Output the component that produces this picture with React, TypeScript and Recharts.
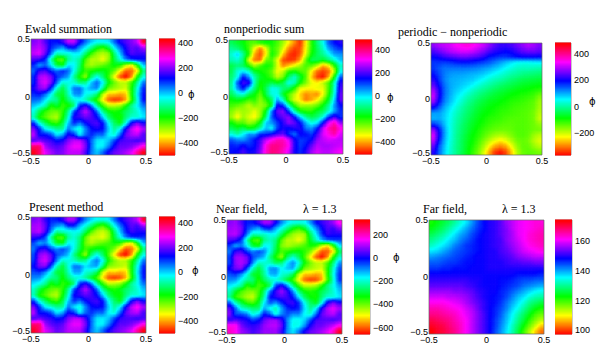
import React from "react";
import { ScatterChart, Scatter, XAxis, YAxis, ReferenceArea } from "recharts";

// phi, top row first, left to right
const ewald: number[][] = [
  [200,225,170,115,115,155,240,240,135,60,0,-30,-30,-20,60,135,170,200,240,405],
  [225,240,200,100,60,20,100,115,30,-30,-100,-180,-220,-150,-30,60,135,185,170,225],
  [240,260,185,60,-80,-60,-60,-30,-30,-120,-220,-280,-300,-280,-120,0,115,170,155,155],
  [170,155,100,-80,-230,-250,-100,-60,-100,-230,-300,-300,-340,-280,-150,-50,50,100,115,115],
  [100,20,60,-20,-150,-180,-20,-30,-120,-260,-290,-270,-250,-220,-180,-200,-300,-350,-200,0],
  [60,155,170,100,60,100,60,-40,-150,-220,-200,-180,-170,-200,-250,-350,-440,-440,-350,-120],
  [100,225,240,195,100,60,20,-100,-200,-280,-120,-40,-120,-220,-340,-450,-500,-420,-200,-50],
  [100,225,260,200,60,-60,-50,-60,-120,-100,0,60,-30,-180,-250,-300,-300,-220,-100,50],
  [135,200,225,100,-60,-150,-60,50,60,-20,20,40,-100,-250,-280,-300,-320,-200,-50,100],
  [100,115,60,-30,-150,-170,-80,30,40,-40,-60,-120,-300,-380,-380,-400,-380,-200,-30,115],
  [60,50,-20,-80,-100,-200,-120,-60,-40,-80,-150,-220,-350,-440,-470,-460,-400,-220,-50,115],
  [0,-30,-80,-200,-160,-220,-200,-120,100,155,60,-100,-220,-300,-300,-280,-200,-100,-30,50],
  [-50,-150,-220,-250,-260,-220,-100,80,170,240,170,60,-100,-180,-200,-180,-130,-100,-60,0],
  [-80,-200,-240,-280,-300,-200,-60,135,155,185,170,125,0,-120,-180,-200,-120,-60,-60,-20],
  [100,-50,-130,-200,-220,-150,0,100,50,115,155,170,115,-30,-130,-180,-50,135,200,135],
  [200,100,-30,-60,-100,-100,50,-20,-60,40,115,135,115,0,-100,-30,135,240,295,225],
  [240,115,115,80,-20,20,135,100,-30,60,100,60,60,-30,-60,60,185,225,240,170],
  [170,195,170,155,115,135,200,240,240,170,60,-20,-30,0,80,155,170,170,155,170],
  [370,370,225,185,170,185,240,270,270,200,60,-30,-30,40,135,185,185,200,240,295],
  [420,370,260,225,190,200,240,240,240,170,50,0,60,135,185,200,225,260,340,420],
];

const nonperiodic: number[][] = [
  [-120,-150,-170,-220,-230,-200,-180,-180,-220,-280,-350,-420,-480,-350,-200,-100,-20,100,150,180],
  [-80,-100,-150,-220,-340,-430,-330,-200,-240,-320,-420,-470,-460,-340,-200,-120,-50,50,100,130],
  [-40,20,-80,-200,-400,-460,-350,-180,-240,-380,-470,-490,-450,-320,-180,-120,-80,-20,50,60],
  [-60,-40,-100,-330,-430,-440,-250,-220,-330,-460,-480,-470,-400,-240,-120,-120,-150,-100,-40,30],
  [-130,-100,-120,-200,-280,-220,-180,-200,-320,-420,-380,-330,-280,-220,-240,-300,-400,-350,-200,-50],
  [-120,-30,0,-40,-150,-180,-200,-240,-340,-300,-200,-180,-220,-240,-350,-440,-470,-440,-300,-20],
  [-100,-20,150,60,-60,-150,-180,-220,-300,-250,-110,-40,-140,-230,-380,-470,-500,-400,-170,100],
  [-80,100,200,180,-60,-180,-160,-130,-160,-130,-20,-60,-180,-260,-330,-350,-300,-220,-50,180],
  [-70,60,150,20,-100,-200,-120,-20,-30,-100,-120,-200,-330,-340,-350,-330,-330,-220,-40,200],
  [-120,-50,-30,-120,-170,-240,-130,-30,-20,-150,-230,-300,-370,-420,-400,-420,-340,-200,-20,220],
  [-180,-160,-180,-220,-200,-270,-200,-120,50,-50,-230,-320,-360,-430,-400,-350,-260,-150,20,220],
  [-220,-240,-260,-300,-260,-280,-250,-150,170,130,-50,-200,-280,-270,-270,-240,-170,-80,60,150],
  [-260,-300,-280,-290,-330,-280,-160,80,220,250,120,-60,-170,-200,-200,-150,-120,-40,50,130],
  [-280,-350,-280,-320,-350,-270,-100,100,180,220,250,150,20,-80,-130,-100,-30,120,200,130],
  [-180,-230,-230,-280,-250,-160,20,60,120,180,250,220,150,40,-30,0,150,300,370,250],
  [-120,-150,-120,-170,-150,-70,30,-10,120,170,150,180,180,80,60,140,280,370,410,340],
  [-30,-70,-10,60,50,130,130,160,200,220,130,80,160,150,120,200,300,340,380,300],
  [100,70,60,100,150,200,280,330,370,370,300,170,120,130,160,250,280,300,290,280],
  [140,130,160,130,150,220,340,400,400,380,330,180,120,150,220,280,270,270,280,290],
  [150,160,200,160,170,240,350,410,400,360,300,170,130,180,260,300,280,280,300,320],
];

const difference: number[][] = [
  [280,300,310,320,340,350,360,350,330,310,280,250,230,230,240,260,280,300,290,270],
  [240,260,280,300,310,320,320,310,290,270,240,220,210,200,210,230,250,260,260,250],
  [200,210,230,240,250,260,260,250,240,220,190,180,170,170,180,190,200,200,200,195],
  [170,170,165,170,180,185,185,180,170,160,150,130,110,90,70,55,50,50,55,60],
  [170,150,135,135,135,135,135,130,125,115,105,90,75,55,40,25,20,20,15,10],
  [190,160,130,115,110,110,105,100,95,85,70,55,40,25,10,0,-10,-15,-20,-25],
  [220,170,125,105,100,95,90,85,70,55,35,20,10,-5,-20,-30,-40,-45,-50,-55],
  [250,190,135,105,95,85,75,60,40,20,5,-10,-25,-35,-45,-55,-65,-70,-75,-80],
  [290,210,140,105,85,70,50,25,5,-10,-25,-40,-50,-60,-70,-80,-85,-90,-100,-110],
  [310,210,135,100,70,50,20,0,-20,-35,-50,-60,-70,-80,-90,-95,-105,-110,-120,-150],
  [280,190,125,90,60,30,0,-20,-40,-55,-70,-75,-85,-95,-105,-110,-115,-125,-135,-170],
  [200,150,100,70,40,10,-15,-35,-55,-70,-80,-90,-100,-105,-115,-120,-125,-130,-140,-175],
  [110,110,85,55,25,0,-25,-45,-65,-80,-90,-100,-110,-115,-120,-125,-130,-135,-150,-185],
  [100,105,80,50,15,-10,-35,-55,-75,-90,-105,-110,-115,-125,-130,-130,-130,-135,-150,-195],
  [170,140,90,45,10,-20,-45,-65,-85,-100,-115,-125,-130,-135,-135,-130,-130,-135,-145,-165],
  [280,190,105,45,5,-25,-50,-75,-95,-115,-130,-140,-145,-145,-140,-130,-130,-135,-145,-150],
  [320,200,105,45,0,-30,-60,-85,-105,-130,-155,-175,-185,-175,-155,-135,-130,-140,-170,-190],
  [300,180,95,40,0,-35,-65,-90,-120,-155,-190,-220,-240,-220,-185,-150,-140,-150,-185,-210],
  [250,150,85,35,-5,-35,-70,-100,-135,-180,-235,-280,-300,-280,-225,-170,-140,-140,-165,-185],
  [220,140,80,30,-5,-40,-75,-110,-150,-205,-275,-340,-360,-330,-260,-185,-145,-135,-140,-150],
];

const present: number[][] = [
  [210,230,165,115,120,160,245,235,130,50,0,-30,-40,-20,60,135,175,210,250,420],
  [235,245,195,90,50,20,110,115,20,-40,-110,-190,-230,-150,-30,60,135,190,170,230],
  [235,255,180,50,-90,-60,-50,-30,-40,-130,-230,-290,-310,-270,-120,10,115,170,150,150],
  [165,150,90,-90,-220,-240,-90,-50,-110,-240,-310,-310,-330,-280,-150,-40,60,105,115,105],
  [90,20,50,-30,-150,-170,-20,-30,-120,-250,-290,-260,-240,-220,-190,-210,-310,-340,-190,10],
  [60,150,165,90,50,90,50,-40,-140,-220,-190,-170,-170,-210,-260,-360,-450,-430,-340,-110],
  [90,220,245,190,90,60,10,-100,-190,-280,-110,-30,-120,-230,-350,-460,-500,-410,-190,-40],
  [100,235,270,195,50,-60,-40,-60,-110,-90,10,60,-30,-190,-260,-300,-290,-210,-90,60],
  [130,205,220,90,-70,-150,-50,60,60,-10,20,30,-110,-260,-280,-290,-310,-190,-40,110],
  [90,105,50,-40,-150,-160,-70,30,30,-50,-70,-130,-310,-380,-370,-390,-370,-190,-20,125],
  [50,40,-30,-90,-110,-190,-110,-60,-50,-90,-160,-230,-360,-450,-470,-450,-390,-210,-40,115],
  [-10,-40,-90,-190,-150,-210,-190,-110,105,160,70,-90,-210,-300,-290,-270,-190,-90,-30,60],
  [-60,-150,-210,-240,-260,-210,-90,90,175,245,175,70,-90,-170,-200,-170,-120,-90,-50,10],
  [-70,-190,-230,-280,-300,-190,-50,135,160,190,175,130,10,-110,-170,-190,-110,-50,-50,-10],
  [105,-40,-120,-190,-220,-140,10,105,60,125,160,175,125,-20,-120,-170,-40,140,210,140],
  [210,105,-20,-50,-90,-90,60,-10,-50,50,125,140,125,10,-90,-20,140,250,300,235],
  [250,125,125,90,-10,30,140,105,-20,70,105,70,70,-20,-50,70,190,235,250,175],
  [175,200,175,160,125,140,210,250,250,175,70,-10,-20,10,90,160,175,175,160,175],
  [380,380,235,190,175,190,250,280,280,210,70,-20,-20,50,140,190,190,210,250,305],
  [430,380,270,235,195,210,250,250,250,175,60,10,70,140,190,210,235,270,350,440],
];

const nearField: number[][] = [
  [85,100,50,-15,-15,35,105,100,5,-90,-150,-180,-185,-175,-100,-10,30,60,95,170],
  [100,110,80,-35,-80,-120,-40,-25,-115,-180,-250,-330,-370,-305,-190,-100,-10,45,30,80],
  [110,120,60,-75,-215,-200,-205,-175,-175,-270,-370,-430,-450,-435,-275,-160,-40,30,15,15],
  [50,35,-35,-220,-370,-390,-245,-205,-250,-380,-450,-450,-490,-435,-305,-210,-110,-60,-40,-40],
  [-35,-115,-80,-160,-295,-325,-165,-175,-270,-410,-440,-420,-400,-375,-335,-355,-460,-510,-360,-160],
  [-80,30,45,-40,-85,-45,-85,-185,-300,-370,-350,-330,-320,-350,-405,-505,-600,-600,-510,-280],
  [-40,95,105,70,-45,-85,-125,-245,-345,-430,-270,-190,-270,-370,-490,-600,-650,-570,-350,-200],
  [-45,90,115,75,-85,-205,-195,-205,-270,-250,-150,-90,-180,-330,-400,-450,-450,-370,-250,-100],
  [5,70,90,-45,-205,-295,-210,-100,-90,-170,-130,-110,-250,-400,-430,-450,-470,-350,-200,-50],
  [-50,-30,-90,-180,-300,-320,-230,-120,-110,-190,-210,-270,-450,-530,-530,-550,-530,-350,-180,-30],
  [-90,-100,-170,-230,-250,-350,-270,-210,-190,-230,-300,-370,-500,-590,-620,-610,-550,-370,-200,-30],
  [-150,-180,-230,-350,-310,-370,-350,-270,-50,20,-90,-250,-370,-450,-450,-430,-350,-250,-180,-100],
  [-205,-305,-375,-405,-415,-375,-255,-75,35,100,35,-90,-250,-330,-350,-330,-280,-240,-195,-130],
  [-240,-360,-400,-440,-460,-360,-220,-10,25,50,35,-20,-150,-270,-330,-340,-255,-190,-190,-150],
  [-60,-210,-290,-360,-380,-310,-155,-55,-100,-30,25,35,-30,-175,-270,-315,-185,15,80,20],
  [60,-65,-195,-225,-260,-260,-110,-175,-215,-110,-30,0,-25,-140,-240,-165,15,115,150,105],
  [85,-50,-50,-85,-185,-145,-10,-60,-185,-90,-50,-90,-85,-170,-195,-70,60,100,120,55],
  [25,50,25,10,-45,-15,60,95,100,35,-90,-170,-175,-140,-55,35,50,50,40,60],
  [170,170,75,35,25,40,95,115,120,70,-90,-180,-175,-100,10,60,65,90,120,165],
  [200,170,100,75,40,60,95,95,100,35,-100,-150,-80,10,60,80,105,140,200,310],
];

const farField: number[][] = [
  [122,124,126,128,131,134,137,141,145,148,150,151,153,156,158,160,161,162,163,163],
  [124,126,128,131,134,137,140,143,146,148,150,151,153,155,158,160,161,162,163,164],
  [127,129,131,134,137,140,142,145,147,149,150,151,153,155,157,160,161,163,164,165],
  [130,132,134,137,139,142,144,146,148,149,150,151,152,155,157,159,161,163,164,165],
  [133,135,137,139,142,144,146,147,148,149,150,151,152,154,156,158,160,162,163,164],
  [137,138,140,142,144,145,146,147,148,149,150,150,152,153,155,157,159,160,161,162],
  [141,142,143,144,145,146,147,148,149,149,150,150,151,152,153,155,156,157,158,158],
  [144,144,145,146,146,147,148,148,149,149,150,150,150,151,152,152,153,153,154,154],
  [146,146,147,147,148,148,148,149,149,149,150,150,150,150,150,150,150,150,150,150],
  [149,149,149,149,149,149,149,149,149,149,149,149,149,149,149,148,148,148,148,147],
  [151,151,151,151,151,151,151,150,150,149,149,149,148,148,147,146,145,145,144,144],
  [153,153,153,153,153,153,152,151,150,149,149,149,148,147,146,145,143,142,141,140],
  [156,156,156,156,155,155,154,153,151,150,149,149,147,146,144,142,140,138,136,135],
  [159,159,159,158,158,157,156,154,152,150,149,148,147,145,142,139,137,134,132,131],
  [162,162,162,161,160,159,157,155,153,151,149,148,146,143,140,137,134,130,128,126],
  [165,165,164,163,162,161,159,157,154,151,149,147,145,142,138,135,131,127,124,122],
  [167,167,166,165,164,162,160,158,155,152,149,147,144,140,136,132,128,124,120,118],
  [170,169,168,167,165,163,161,158,155,152,149,146,143,139,135,130,126,121,117,114],
  [172,171,170,168,166,164,161,158,155,152,149,146,142,138,133,128,123,118,113,108],
  [174,172,171,169,167,164,161,158,155,152,149,145,141,137,132,126,120,114,108,103],
];

const axisTicks = [-0.5, 0, 0.5];
const corners = [{ x: -0.5, y: -0.5 }, { x: 0.5, y: 0.5 }];

const panels = [
  { grid: ewald, range: [-500, 432], ticks: [-400, -200, 0, 200, 400], x0: 31, x1: 146, y0: 39, y1: 155, barX0: 159, barX1: 175 },
  { grid: nonperiodic, range: [-510, 490], ticks: [-400, -200, 0, 200, 400], x0: 229, x1: 343, y0: 40, y1: 154, barX0: 355, barX1: 372 },
  { grid: difference, range: [-370, 484], ticks: [-200, 0, 200, 400], x0: 431, x1: 542, y0: 43, y1: 155, barX0: 555, barX1: 571 },
  { grid: present, range: [-500, 450], ticks: [-400, -200, 0, 200, 400], x0: 31, x1: 146, y0: 217, y1: 333, barX0: 159, barX1: 175 },
  { grid: nearField, range: [-657, 325], ticks: [-600, -400, -200, 0, 200], x0: 227, x1: 342, y0: 220, y1: 334, barX0: 354, barX1: 370 },
  { grid: farField, range: [97.5, 174], ticks: [100, 120, 140, 160], x0: 429, x1: 544, y0: 220, y1: 334, barX0: 555, barX1: 572 },
];

const labels = [
  { text: "Ewald summation", x: 25, y: 33 },
  { text: "nonperiodic sum", x: 224, y: 33 },
  { text: "periodic \u2212 nonperiodic", x: 398, y: 36 },
  { text: "Present method", x: 29, y: 211 },
  { text: "Near field,", x: 216, y: 213 },
  { text: "\u03bb = 1.3", x: 303, y: 213 },
  { text: "Far field,", x: 423, y: 213 },
  { text: "\u03bb = 1.3", x: 502, y: 213 },
];

const phiLabels = [
  { x: 191, y: 95 },
  { x: 390, y: 98 },
  { x: 592, y: 102 },
  { x: 195, y: 271 },
  { x: 396, y: 258 },
];

const PAD = 8;
const SUB = 4; // shading steps per grid cell
const SANS = "'Liberation Sans', Arial, sans-serif";
const SERIF = "'Liberation Serif', 'Times New Roman', serif";

const hue = (phi: number, range: number[]) => {
  const f = Math.min(1, Math.max(0, (phi - range[0]) / (range[1] - range[0])));
  return `hsl(${Math.round(f * 360)},100%,50%)`;
};

const fmt = (v: number) => String(v).replace("-", "\u2212");

// gouraud style shading between neighbouring grid values
const shade = (grid: number[][], r: number, c: number) => {
  const n = grid.length;
  const r0 = Math.max(0, Math.min(n - 1, Math.floor(r)));
  const c0 = Math.max(0, Math.min(n - 1, Math.floor(c)));
  const r1 = Math.min(n - 1, r0 + 1);
  const c1 = Math.min(n - 1, c0 + 1);
  const fr = Math.max(0, Math.min(1, r - r0));
  const fc = Math.max(0, Math.min(1, c - c0));
  const top = grid[r0][c0] * (1 - fc) + grid[r0][c1] * fc;
  const bottom = grid[r1][c0] * (1 - fc) + grid[r1][c1] * fc;
  return top * (1 - fr) + bottom * fr;
};

const YTick = (props: any) => {
  const { x, y, payload } = props;
  const shift = payload.value === -0.5 ? -2 : 0;
  return (
    <text x={x} y={y + shift} dy={3} textAnchor="end" fontSize={9} fontFamily={SANS} fill="#000">
      {fmt(payload.value)}
    </text>
  );
};

const Field = ({ p }: { p: (typeof panels)[number] }) => {
  const w = p.x1 - p.x0;
  const h = p.y1 - p.y0;
  const n = p.grid.length;
  const cw = w / n;
  const ch = h / n;
  const cells = p.grid.flatMap((row, r) =>
    row.map((phi, c) => ({ x: -0.5 + (c + 0.5) / n, y: 0.5 - (r + 0.5) / n, phi, r, c })),
  );
  const shape = (props: any) => {
    const { cx, cy, payload } = props;
    const rects = [];
    for (let i = 0; i < SUB; i++) {
      for (let j = 0; j < SUB; j++) {
        const u = (i + 0.5) / SUB - 0.5;
        const v = (j + 0.5) / SUB - 0.5;
        // outer cells run past the frame so the blur does not fade at the edges
        const left = cx + (i / SUB - 0.5) * cw - (payload.c === 0 && i === 0 ? PAD : 0);
        const right = cx + ((i + 1) / SUB - 0.5) * cw + 0.7 + (payload.c === n - 1 && i === SUB - 1 ? PAD : 0);
        const top = cy + (j / SUB - 0.5) * ch - (payload.r === 0 && j === 0 ? PAD : 0);
        const bottom = cy + ((j + 1) / SUB - 0.5) * ch + 0.7 + (payload.r === n - 1 && j === SUB - 1 ? PAD : 0);
        rects.push(
          <rect
            key={i * SUB + j}
            x={left}
            y={top}
            width={right - left}
            height={bottom - top}
            fill={hue(shade(p.grid, payload.r + v, payload.c + u), p.range)}
          />,
        );
      }
    }
    return <g>{rects}</g>;
  };
  return (
    <>
      <div style={{ position: "absolute", left: p.x0, top: p.y0, width: w, height: h, overflow: "hidden" }}>
        <div style={{ position: "absolute", left: -PAD, top: -PAD, filter: "blur(0.7px)" }}>
          <ScatterChart width={w + 2 * PAD} height={h + 2 * PAD} margin={{ top: PAD, right: PAD, bottom: PAD, left: PAD }}>
            <XAxis type="number" dataKey="x" domain={[-0.5, 0.5]} hide />
            <YAxis type="number" dataKey="y" domain={[-0.5, 0.5]} hide />
            <Scatter data={cells} shape={shape} isAnimationActive={false} />
          </ScatterChart>
        </div>
      </div>
      <div style={{ position: "absolute", left: p.x0 - 30, top: p.y0 - 8 }}>
        <ScatterChart width={w + 42} height={h + 26} margin={{ top: 8, right: 12, bottom: 0, left: 0 }}>
          <XAxis
            type="number"
            dataKey="x"
            domain={[-0.5, 0.5]}
            ticks={axisTicks}
            interval={0}
            height={18}
            tickSize={0}
            tickMargin={3}
            tickFormatter={fmt}
            axisLine={false}
            tick={{ fontSize: 9, fontFamily: SANS, fill: "#000" }}
          />
          <YAxis
            type="number"
            dataKey="y"
            domain={[-0.5, 0.5]}
            ticks={axisTicks}
            interval={0}
            width={30}
            tickSize={0}
            tickMargin={1}
            axisLine={false}
            tick={<YTick />}
          />
          <Scatter data={corners} shape={() => <g />} isAnimationActive={false} />
          <ReferenceArea x1={-0.5} x2={0.5} y1={-0.5} y2={0.5} fill="none" stroke="#666" strokeWidth={0.7} />
        </ScatterChart>
      </div>
    </>
  );
};

const ColorBar = ({ p }: { p: (typeof panels)[number] }) => {
  const w = p.barX1 - p.barX0;
  const h = p.y1 - p.y0;
  const steps = 128;
  const levels = Array.from({ length: steps }, (_, i) => ({
    x: 0,
    y: p.range[0] + ((i + 0.5) / steps) * (p.range[1] - p.range[0]),
  }));
  const shape = (props: any) => (
    <rect x={props.cx - w / 2} y={props.cy - h / steps / 2 - 0.5} width={w} height={h / steps + 1} fill={hue(props.payload.y, p.range)} />
  );
  return (
    <div style={{ position: "absolute", left: p.barX0, top: p.y0 - 8 }}>
      <ScatterChart width={w + 30} height={h + 16} margin={{ top: 8, right: 0, bottom: 8, left: 0 }}>
        <XAxis type="number" dataKey="x" domain={[-1, 1]} hide />
        <YAxis
          type="number"
          dataKey="y"
          orientation="right"
          domain={p.range}
          ticks={p.ticks}
          interval={0}
          width={30}
          tickSize={0}
          tickMargin={3}
          tickFormatter={fmt}
          axisLine={false}
          tick={{ fontSize: 9, fontFamily: SANS, fill: "#000" }}
        />
        <Scatter data={levels} shape={shape} isAnimationActive={false} />
        <ReferenceArea x1={-1} x2={1} y1={p.range[0]} y2={p.range[1]} fill="none" stroke="#666" strokeWidth={0.7} />
      </ScatterChart>
    </div>
  );
};

export default function App() {
  return (
    <div style={{ position: "fixed", left: 0, top: 0, width: 598, height: 345, background: "#fff", overflow: "hidden" }}>
      {panels.map((p, i) => (
        <React.Fragment key={i}>
          <Field p={p} />
          <ColorBar p={p} />
        </React.Fragment>
      ))}
      {labels.map((l, i) => (
        <div key={i} style={{ position: "absolute", left: l.x, top: l.y - 11, fontFamily: SERIF, fontSize: 12, lineHeight: "14px", whiteSpace: "nowrap" }}>
          {l.text}
        </div>
      ))}
      {phiLabels.map((l, i) => (
        <div key={i} style={{ position: "absolute", left: l.x - 3, top: l.y - 7, fontFamily: "'DejaVu Sans', sans-serif", fontSize: 10, lineHeight: "14px", color: "#000" }}>
          {"\u03d5"}
        </div>
      ))}
    </div>
  );
}
